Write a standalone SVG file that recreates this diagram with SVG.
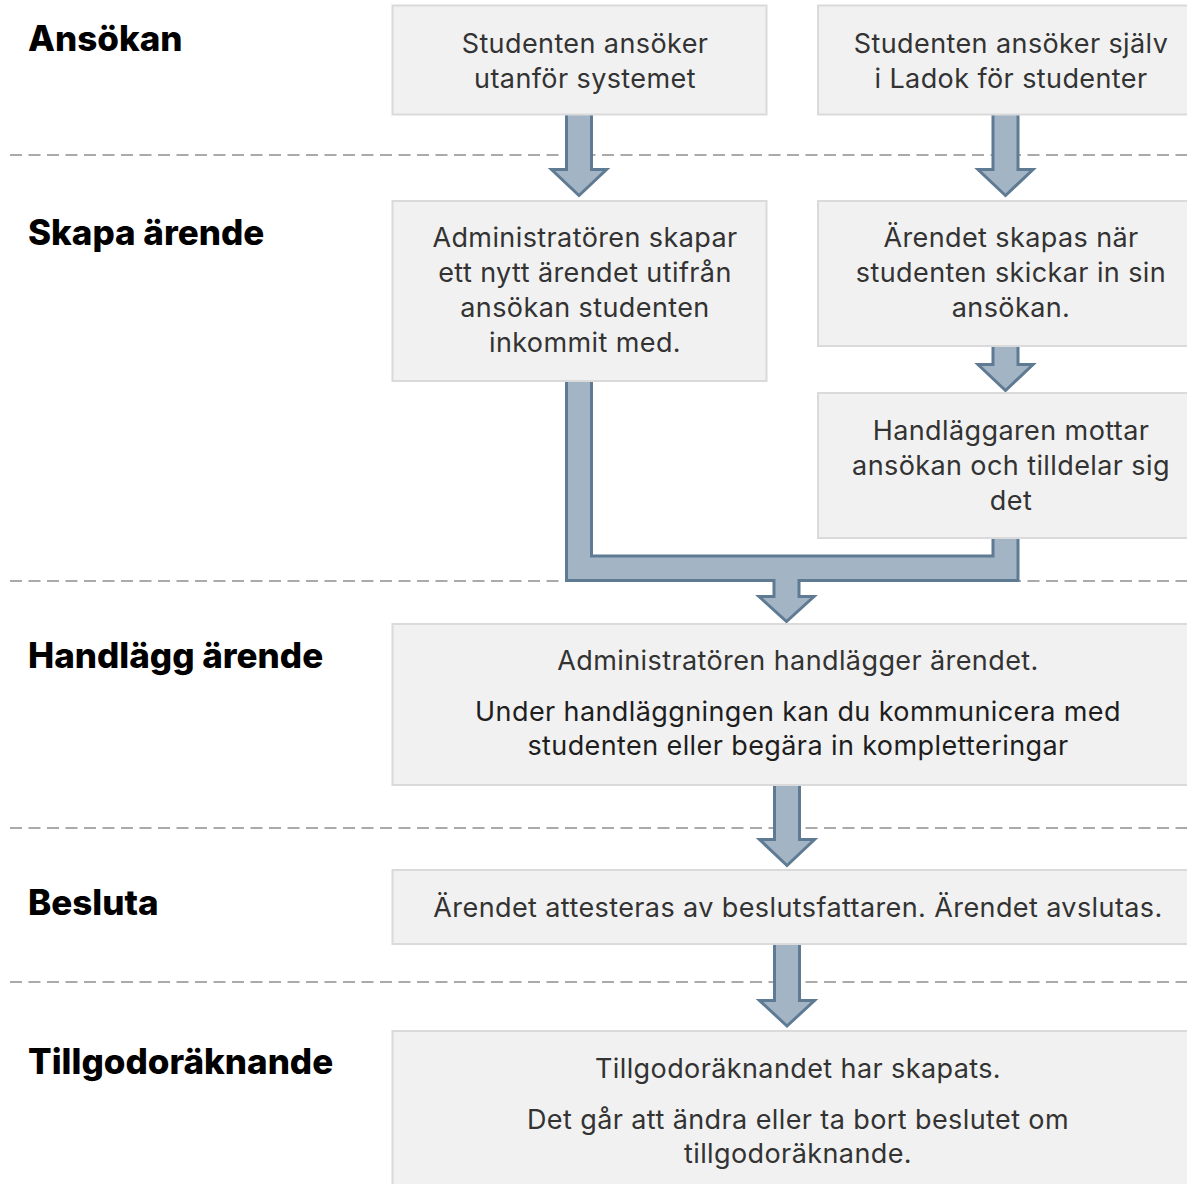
<svg xmlns="http://www.w3.org/2000/svg" width="1187" height="1184" viewBox="0 0 1187 1184">
<style>
.bg{fill:#ffffff}
.sep{stroke:#aaaaaa;stroke-width:2;stroke-dasharray:12 6.5;fill:none}
.h{font-family:Inter,"Liberation Sans",sans-serif;font-weight:800;font-size:35px;fill:#000}
.box{fill:#f1f1f1;stroke:#dadada;stroke-width:2}
.t{font-family:Inter,"Liberation Sans",sans-serif;font-size:27px;letter-spacing:0.4px;fill:#333;text-anchor:middle}
.d{fill:#1e1e1e}
.arr{fill:#a3b5c5;stroke:#5f7b93;stroke-width:3;stroke-linejoin:miter}
</style>
<rect class="bg" x="0" y="0" width="1187" height="1184"/>
<g id="separators">
<line class="sep" x1="10" y1="155" x2="1187" y2="155"/>
<line class="sep" x1="10" y1="581" x2="1187" y2="581"/>
<line class="sep" x1="10" y1="828" x2="1187" y2="828"/>
<line class="sep" x1="10" y1="982" x2="1187" y2="982"/>
</g>
<g id="lanes">
<text class="h" x="28" y="51">Ansökan</text>
<text class="h" x="28" y="245">Skapa ärende</text>
<text class="h" x="28" y="668">Handlägg ärende</text>
<text class="h" x="28" y="915">Besluta</text>
<text class="h" x="28" y="1074">Tillgodoräknande</text>
</g>
<g id="connectors">
<polygon class="arr" points="566.5,110 591.5,110 591.5,169.5 606.5,169.5 579,195.5 551.5,169.5 566.5,169.5"/>
<polygon class="arr" points="993,110 1018,110 1018,169.5 1033,169.5 1005.5,195.5 978,169.5 993,169.5"/>
<polygon class="arr" points="993,342 1018,342 1018,364.5 1033,364.5 1005.5,390.5 978,364.5 993,364.5"/>
<polygon class="arr" points="566.5,378 591.5,378 591.5,556 993,556 993,535 1018,535 1018,580.5 799,580.5 799,596.5 814,596.5 786.5,621.5 759,596.5 774,596.5 774,580.5 566.5,580.5"/>
<polygon class="arr" points="774.5,782 799.5,782 799.5,839.5 814.5,839.5 787,865.5 759.5,839.5 774.5,839.5"/>
<polygon class="arr" points="774.5,941 799.5,941 799.5,1000.5 814.5,1000.5 787,1026 759.5,1000.5 774.5,1000.5"/>
</g>
<g id="n1">
<rect class="box" x="392.5" y="5.5" width="374" height="109"/>
<text class="t" x="585" y="53">Studenten ansöker</text>
<text class="t" x="585" y="88">utanför systemet</text>
</g>
<g id="n2">
<rect class="box" x="818" y="5.5" width="400" height="109"/>
<text class="t" x="1011" y="53">Studenten ansöker själv</text>
<text class="t" x="1011" y="88">i Ladok för studenter</text>
</g>
<g id="n3">
<rect class="box" x="392.5" y="201" width="374" height="180"/>
<text class="t" x="585" y="247">Administratören skapar</text>
<text class="t" x="585" y="282">ett nytt ärendet utifrån</text>
<text class="t" x="585" y="317">ansökan studenten</text>
<text class="t" x="585" y="352">inkommit med.</text>
</g>
<g id="n4">
<rect class="box" x="818" y="201" width="400" height="145"/>
<text class="t" x="1011" y="247">Ärendet skapas när</text>
<text class="t" x="1011" y="282">studenten skickar in sin</text>
<text class="t" x="1011" y="317">ansökan.</text>
</g>
<g id="n5">
<rect class="box" x="818" y="393" width="400" height="145"/>
<text class="t" x="1011" y="440">Handläggaren mottar</text>
<text class="t" x="1011" y="475">ansökan och tilldelar sig</text>
<text class="t" x="1011" y="510">det</text>
</g>
<g id="n6">
<rect class="box" x="392.5" y="624" width="820" height="161"/>
<text class="t" x="798" y="670">Administratören handlägger ärendet.</text>
<text class="t d" x="798" y="721">Under handläggningen kan du kommunicera med</text>
<text class="t d" x="798" y="755">studenten eller begära in kompletteringar</text>
</g>
<g id="n7">
<rect class="box" x="392.5" y="870" width="820" height="74"/>
<text class="t" x="798" y="917">Ärendet attesteras av beslutsfattaren. Ärendet avslutas.</text>
</g>
<g id="n8">
<rect class="box" x="392.5" y="1031" width="820" height="200"/>
<text class="t" x="798" y="1078">Tillgodoräknandet har skapats.</text>
<text class="t" x="798" y="1129">Det går att ändra eller ta bort beslutet om</text>
<text class="t" x="798" y="1163">tillgodoräknande.</text>
</g>
</svg>
